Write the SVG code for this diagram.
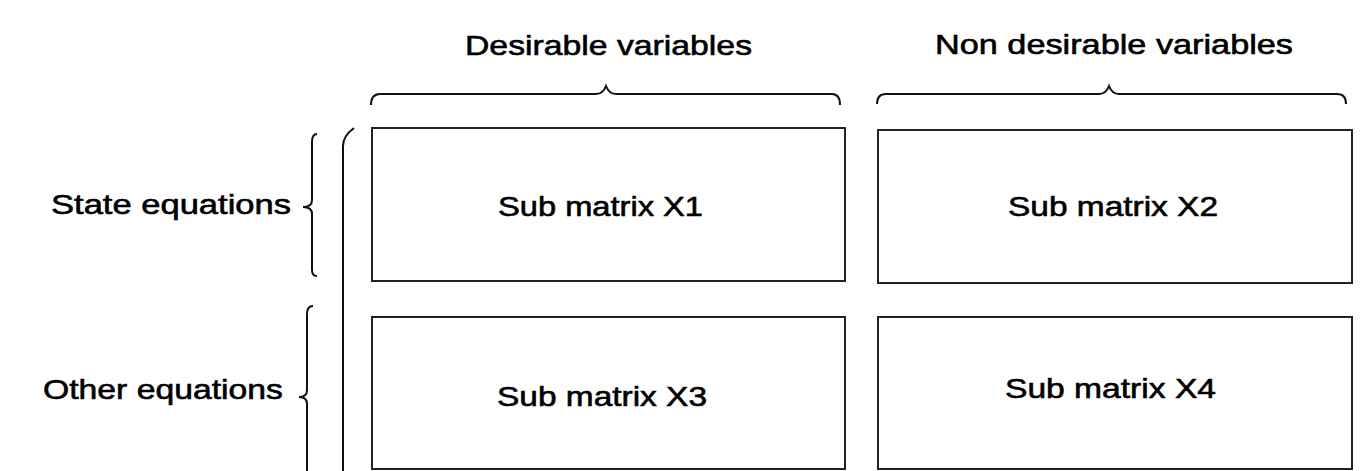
<svg xmlns="http://www.w3.org/2000/svg" width="1363" height="471" viewBox="0 0 1363 471">
<style>
.box{fill:#fff;stroke:#222;stroke-width:2}
.br{fill:none;stroke:#111;stroke-width:2}
text{font-family:"Liberation Sans",Arial,sans-serif;font-size:28px;fill:#000;stroke:#000;stroke-width:0.6}
</style>
<rect width="1363" height="471" fill="#fff"/>
<g id="labels">
<text x="465" y="55" textLength="287" lengthAdjust="spacingAndGlyphs">Desirable variables</text>
<text x="935" y="54" textLength="358" lengthAdjust="spacingAndGlyphs">Non desirable variables</text>
<text x="51" y="214" textLength="240" lengthAdjust="spacingAndGlyphs">State equations</text>
<text x="43" y="399" textLength="240" lengthAdjust="spacingAndGlyphs">Other equations</text>
</g>
<g id="braces">
<path class="br" d="M371,105 Q371,94 380,94 L596,94 Q603,94 606,86 Q609,94 616,94 L832,94 Q840,94 840,105"/>
<path class="br" d="M877,104 Q877,94 886,94 L1099,94 Q1106,94 1109,86 Q1112,94 1119,94 L1337,94 Q1346,94 1346,104"/>
<path class="br" d="M317,134 Q312,134 312,142 L312,200 Q312,207 303,207 Q312,207 312,214 L312,270 Q312,276 317,276"/>
<path class="br" d="M354,128 Q343,136 343,146 L343,471"/>
<path class="br" d="M313,306 Q307,306 307,314 L307,390 Q307,397 299,397 Q307,397 307,404 L307,471"/>
</g>
<g id="X1">
<rect class="box" x="372" y="128" width="473" height="153"/>
<text x="498" y="216" textLength="205" lengthAdjust="spacingAndGlyphs">Sub matrix X1</text>
</g>
<g id="X2">
<rect class="box" x="878" y="130" width="474" height="153"/>
<text x="1008" y="216" textLength="210" lengthAdjust="spacingAndGlyphs">Sub matrix X2</text>
</g>
<g id="X3">
<rect class="box" x="372" y="317" width="473" height="152"/>
<text x="497" y="406" textLength="210" lengthAdjust="spacingAndGlyphs">Sub matrix X3</text>
</g>
<g id="X4">
<rect class="box" x="878" y="317" width="474" height="152"/>
<text x="1005" y="398" textLength="211" lengthAdjust="spacingAndGlyphs">Sub matrix X4</text>
</g>
</svg>
